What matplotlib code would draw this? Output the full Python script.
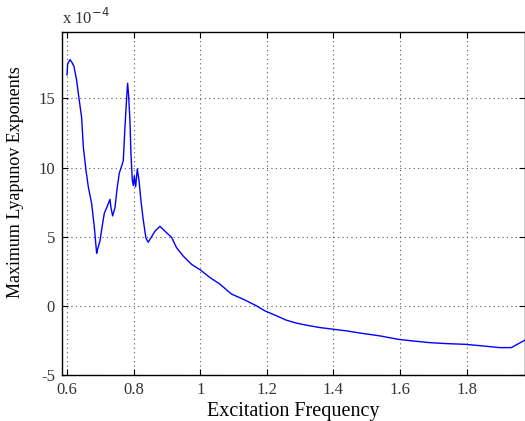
import matplotlib
matplotlib.use("Agg")
import matplotlib.pyplot as plt
import numpy as np

freq = [0.600, 0.602, 0.609, 0.615, 0.621, 0.629, 0.636, 0.644, 0.649, 0.657,
        0.664, 0.674, 0.682, 0.689, 0.692, 0.699, 0.706, 0.712, 0.721, 0.729,
        0.732, 0.737, 0.744, 0.751, 0.757, 0.764, 0.769, 0.774, 0.779, 0.782,
        0.785, 0.789, 0.792, 0.796, 0.799, 0.802, 0.806, 0.811, 0.816, 0.822,
        0.829, 0.837, 0.844, 0.854, 0.864, 0.879, 0.894, 0.914, 0.929, 0.949,
        0.974, 1.000, 1.029, 1.059, 1.094, 1.129, 1.169, 1.194, 1.229, 1.259,
        1.289, 1.319, 1.359, 1.399, 1.439, 1.489, 1.539, 1.594, 1.639, 1.689,
        1.739, 1.794, 1.849, 1.899, 1.934, 1.974]
lyap = [16.7, 17.5, 17.8, 17.6, 17.3, 16.3, 15.0, 13.6, 11.5, 9.8,
        8.6, 7.4, 5.7, 3.8, 4.1, 4.7, 5.8, 6.7, 7.2, 7.7,
        7.1, 6.5, 7.1, 8.6, 9.6, 10.1, 10.5, 12.9, 15.0, 16.1,
        15.2, 13.4, 11.0, 9.1, 8.7, 9.4, 8.6, 9.9, 9.1, 7.6,
        6.2, 4.9, 4.6, 5.0, 5.4, 5.75, 5.4, 4.95, 4.2, 3.6,
        3.0, 2.6, 2.05, 1.57, 0.85, 0.48, 0.0, -0.36, -0.72, -1.04,
        -1.25, -1.4, -1.57, -1.69, -1.81, -2.0, -2.17, -2.42, -2.54, -2.66,
        -2.73, -2.78, -2.9, -3.02, -3.02, -2.49]

xticks = [0.6, 0.8, 1.0, 1.2, 1.4, 1.6, 1.8]
xtick_labels = ["0.6", "0.8", "1", "1.2", "1.4", "1.6", "1.8"]
yticks = [-5, 0, 5, 10, 15]
ytick_labels = ["-5", "0", "5", "10", "15"]

plt.rcParams['font.family'] = ['Liberation Serif', 'DejaVu Serif']

fig = plt.figure(figsize=(5.25, 4.21), dpi=100)
ax = fig.add_axes([62/525, 46/421, 463/525, 343/421])
ax.plot(freq, lyap, color=(0, 0, 1), lw=1.0)
ax.set_xlim(0.585, 1.975)
ax.set_ylim(-5, 19.8)
ax.set_xticks(xticks)
ax.set_xticklabels(xtick_labels)
ax.set_yticks(yticks)
ax.set_yticklabels(ytick_labels)
ax.grid(True, linestyle=(0, (1, 3)), color='0.35', lw=0.8)
ax.tick_params(direction='in', top=True, right=True, labelsize=12, length=4,
               pad=5, labelcolor='0.2')
for s in ax.spines.values():
    s.set_linewidth(1.0)
ax.set_xlabel("Excitation Frequency", fontsize=14.5, labelpad=3)
ax.set_ylabel("Maximum Lyapunov Exponents", fontsize=13)
ax.yaxis.set_label_coords(-0.083, (421 - 182 - 46) / 343)
ax.text(0.0, 1.012, r"x 10$^{-4}$", transform=ax.transAxes, fontsize=12,
        ha='left', va='bottom', color='0.2')
fig.savefig("out.png", dpi=100)
